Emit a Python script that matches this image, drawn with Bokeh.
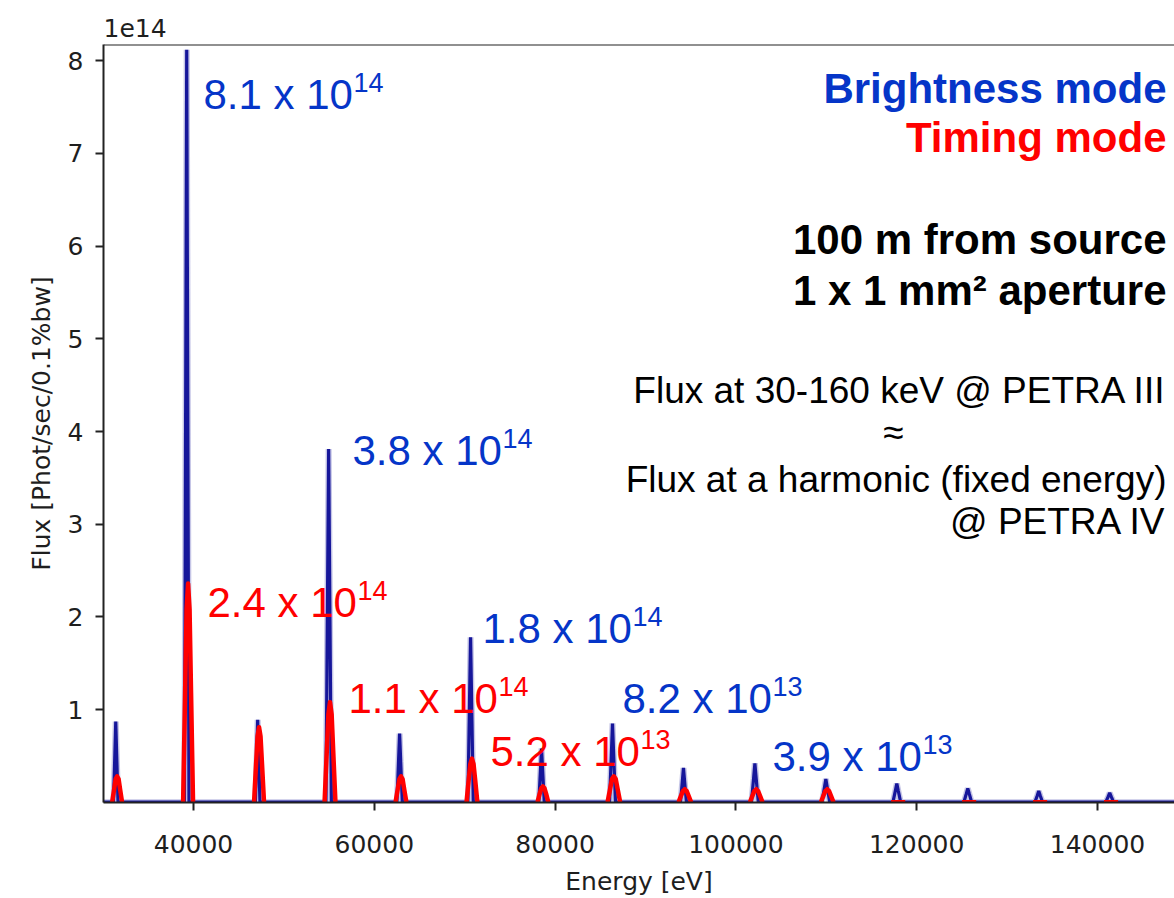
from bokeh.plotting import figure
from bokeh.models import Range1d, FixedTicker, NumeralTickFormatter, Label, Span
from bokeh.embed import file_html
from bokeh.resources import INLINE

NAN = float("nan")

# ---------------- data (flux in units of 1e14 phot/sec/0.1%bw) ----------------
# Brightness mode spectrum: baseline + harmonic peaks
BLUE_ENERGY = [
    30000,
    31150, 31300, 31400, 31500, 31650,
    39000, 39150, 39250, 39350, 39500,
    46850, 47000, 47100, 47200, 47350,
    54650, 54830, 54950, 55070, 55250,
    62500, 62680, 62800, 62920, 63100,
    70350, 70530, 70650, 70770, 70950,
    78200, 78380, 78500, 78620, 78800,
    86020, 86220, 86350, 86480, 86680,
    93870, 94070, 94200, 94330, 94530,
    101720, 101950, 102100, 102250, 102480,
    109520, 109780, 109950, 110120, 110380,
    117370, 117630, 117800, 117970, 118230,
    125220, 125480, 125650, 125820, 126080,
    133070, 133330, 133500, 133670, 133930,
    140920, 141180, 141350, 141520, 141780,
    150000,
]
BLUE_FLUX = [
    0,
    0, 0.52, 0.87, 0.52, 0,
    0, 4.87, 8.12, 4.87, 0,
    0, 0.53, 0.89, 0.53, 0,
    0, 2.29, 3.81, 2.29, 0,
    0, 0.44, 0.74, 0.44, 0,
    0, 1.07, 1.78, 1.07, 0,
    0, 0.35, 0.58, 0.35, 0,
    0, 0.51, 0.85, 0.51, 0,
    0, 0.22, 0.37, 0.22, 0,
    0, 0.25, 0.42, 0.25, 0,
    0, 0.15, 0.25, 0.15, 0,
    0, 0.12, 0.20, 0.12, 0,
    0, 0.09, 0.15, 0.09, 0,
    0, 0.07, 0.12, 0.07, 0,
    0, 0.06, 0.10, 0.06, 0,
    0,
]

# Timing mode spectrum: only computed in windows around each harmonic (NaN = gap)
RED_ENERGY = [
    31000, 31220, 31385, 31550, 31715, 31880, 32100, NAN,
    38850, 39070, 39235, 39400, 39565, 39730, 39950, NAN,
    46700, 46920, 47085, 47250, 47415, 47580, 47800, NAN,
    54500, 54740, 54920, 55100, 55280, 55460, 55700, NAN,
    62350, 62590, 62770, 62950, 63130, 63310, 63550, NAN,
    70200, 70440, 70620, 70800, 70980, 71160, 71400, NAN,
    78050, 78290, 78470, 78650, 78830, 79010, 79250, NAN,
    85800, 86080, 86290, 86500, 86710, 86920, 87200, NAN,
    93650, 93930, 94140, 94350, 94560, 94770, 95050, NAN,
    101550, 101830, 102040, 102250, 102460, 102670, 102950, NAN,
    109400, 109680, 109890, 110100, 110310, 110520, 110800, NAN,
    117170, 118730, NAN,
    125020, 126580, NAN,
    132870, 134430, NAN,
    140720, 142280,
]
RED_FLUX = [
    0, 0.14, 0.25, 0.28, 0.25, 0.14, 0, NAN,
    0, 1.18, 2.08, 2.36, 2.08, 1.18, 0, NAN,
    0, 0.41, 0.71, 0.81, 0.71, 0.41, 0, NAN,
    0, 0.54, 0.95, 1.08, 0.95, 0.54, 0, NAN,
    0, 0.14, 0.25, 0.28, 0.25, 0.14, 0, NAN,
    0, 0.24, 0.41, 0.47, 0.41, 0.24, 0, NAN,
    0, 0.09, 0.15, 0.17, 0.15, 0.09, 0, NAN,
    0, 0.14, 0.25, 0.28, 0.25, 0.14, 0, NAN,
    0, 0.07, 0.12, 0.14, 0.12, 0.07, 0, NAN,
    0, 0.07, 0.12, 0.14, 0.12, 0.07, 0, NAN,
    0, 0.07, 0.12, 0.14, 0.12, 0.07, 0, NAN,
    0, 0, NAN,
    0, 0, NAN,
    0, 0, NAN,
    0, 0,
]

X_TICKS = [40000, 60000, 80000, 100000, 120000, 140000]
Y_TICKS = [1, 2, 3, 4, 5, 6, 7, 8]

PEAK_MANTISSA = ["8.1 x 10", "3.8 x 10", "2.4 x 10", "1.8 x 10",
                 "1.1 x 10", "8.2 x 10", "5.2 x 10", "3.9 x 10"]
PEAK_EXPONENT = ["14", "14", "14", "14", "14", "13", "13", "13"]
PEAK_MODE = ["B", "B", "T", "B", "T", "B", "T", "B"]

# ---------------- styling ----------------
BLUE_LINE = "#16169a"
BLUE_TEXT = "#0535c8"
RED = "#ff0000"
X0, X1 = 30044, 148518
Y0, Y1 = -0.003, 8.176
X_TEXT_RIGHT = 147633

p = figure(width=1174, height=898, output_backend="svg", toolbar_location=None,
           x_range=Range1d(X0, X1), y_range=Range1d(Y0, Y1),
           min_border_left=103, min_border_right=0, min_border_top=44,
           min_border_bottom=93)
p.outline_line_color = None
p.xgrid.visible = False
p.ygrid.visible = False
p.background_fill_color = "white"
p.border_fill_color = "white"

p.title.text = "1e14"
p.title.text_font = "DejaVu Sans"
p.title.text_font_size = "25px"
p.title.text_font_style = "normal"
p.title.text_color = "#1e1e1e"
p.title.align = "left"
p.title.standoff = 15

p.line(BLUE_ENERGY, BLUE_FLUX, line_color="#5a5ab8", line_width=6,
       line_alpha=0.35, line_join="bevel")
p.line(BLUE_ENERGY, BLUE_FLUX, line_color=BLUE_LINE, line_width=3.2,
       line_join="bevel")
p.line(RED_ENERGY, RED_FLUX, line_color=RED, line_width=4.5, line_join="round")

p.add_layout(Span(location=Y1, dimension="width", line_color="#222222",
                  line_width=2))

for ax in (p.xaxis[0], p.yaxis[0]):
    ax.axis_line_width = 2
    ax.axis_line_color = "#222222"
    ax.major_tick_line_width = 2
    ax.major_tick_line_color = "#222222"
    ax.major_tick_out = 8
    ax.major_tick_in = 0
    ax.minor_tick_line_color = None
    ax.major_label_text_font = "DejaVu Sans"
    ax.major_label_text_font_size = "25px"
    ax.major_label_text_color = "#1e1e1e"
    ax.axis_label_text_font = "DejaVu Sans"
    ax.axis_label_text_font_size = "25px"
    ax.axis_label_text_font_style = "normal"
    ax.axis_label_text_color = "#1e1e1e"

p.xaxis.ticker = FixedTicker(ticks=X_TICKS)
p.xaxis.formatter = NumeralTickFormatter(format="0")
p.xaxis.axis_label = "Energy [eV]"
p.xaxis.major_label_standoff = 24
p.xaxis.axis_label_standoff = 11

p.yaxis.ticker = FixedTicker(ticks=Y_TICKS)
p.yaxis.axis_label = "Flux [Phot/sec/0.1%bw]"
p.yaxis.major_label_standoff = 12
p.yaxis.axis_label_standoff = 9

# peak annotations (anchor positions in data coords)
anchors = [(41106, 7.64), (57588, 3.80), (41549, 2.16), (71969, 1.87),
           (57146, 1.12), (87456, 1.12), (72854, 0.55), (104049, 0.49)]
for (ax_, ay_), m, e, mode in zip(anchors, PEAK_MANTISSA, PEAK_EXPONENT, PEAK_MODE):
    col = BLUE_TEXT if mode == "B" else RED
    p.add_layout(Label(x=ax_, y=ay_, text=m, text_font="Liberation Sans",
                       text_font_size="42px", text_color=col,
                       text_align="left", text_baseline="alphabetic"))
    p.add_layout(Label(x=ax_, y=ay_, x_offset=150, y_offset=12, text=e,
                       text_font="Liberation Sans", text_font_size="27px",
                       text_color=col, text_align="left",
                       text_baseline="alphabetic"))

# right-hand text block
right_lines = [
    ("Brightness mode", BLUE_TEXT, "bold", "42px", 7.705),
    ("Timing mode", RED, "bold", "42px", 7.168),
    ("100 m from source", "black", "bold", "42px", 6.073),
    ("1 x 1 mm\u00b2 aperture", "black", "bold", "42px", 5.52),
    ("Flux at 30-160 keV @ PETRA III", "black", "normal", "37px", 4.445),
    ("Flux at a harmonic (fixed energy)", "black", "normal", "37px", 3.482),
    ("@ PETRA IV", "black", "normal", "37px", 3.031),
]
for txt, col, style, size, yy in right_lines:
    p.add_layout(Label(x=X_TEXT_RIGHT, y=yy, text=txt, text_font="Liberation Sans",
                       text_font_size=size, text_font_style=style,
                       text_color=col, text_align="right",
                       text_baseline="alphabetic"))
p.add_layout(Label(x=117434, y=3.99, text="\u2248", text_font="Liberation Sans",
                   text_font_size="37px", text_color="black",
                   text_align="center", text_baseline="alphabetic"))

open("out.html", "w").write(file_html(p, INLINE))
